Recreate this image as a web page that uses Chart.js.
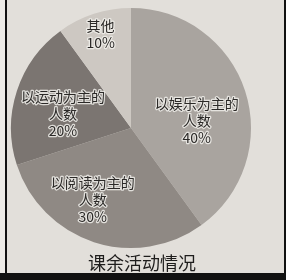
<!DOCTYPE html>
<html>
<head>
<meta charset="utf-8">
<script src="https://cdn.jsdelivr.net/npm/chart.js@4"></script>
<style>
  html, body { margin: 0; padding: 0; background: #e2dfda; }
  #wrap { position: relative; width: 286px; height: 280px; overflow: hidden; }
  .bar { position: absolute; background: #111; }
</style>
</head>
<body>
<div id="wrap">
  <canvas id="pie"></canvas>
  <div class="bar" style="left:0;top:0;width:5px;height:280px;background:#eceae6"></div>
  <div class="bar" style="left:5px;top:0;width:2px;height:280px"></div>
  <div class="bar" style="left:284px;top:0;width:2px;height:280px"></div>
  <div class="bar" style="left:0;top:273px;width:286px;height:7px"></div>
</div>
<script>
const categories = ['以娱乐为主的人数', '以阅读为主的人数', '以运动为主的人数', '其他'];
const labelLines = [['以娱乐为主的', '人数'], ['以阅读为主的', '人数'], ['以运动为主的', '人数'], ['其他']];
const values = [40, 30, 20, 10];
const chartTitle = '课余活动情况';

const colors = ['#a9a49f', '#8f8984', '#7b7571', '#cdc8c2'];
// label placement: radius fraction and angle nudge (deg) per slice
const labelRadius = [0.55, 0.68, 0.58, 0.82];
const labelNudge = [12, 10, -6, 0];

const sliceLabels = {
    id: 'sliceLabels',
    afterDatasetsDraw(chart) {
        const ctx = chart.ctx;
        const arcs = chart.getDatasetMeta(0).data;
        ctx.save();
        ctx.font = '14px "Noto Sans CJK SC", sans-serif';
        ctx.textAlign = 'center';
        ctx.textBaseline = 'middle';
        ctx.lineJoin = 'round';
        arcs.forEach((arc, i) => {
            const p = arc.getProps(['x', 'y', 'startAngle', 'endAngle', 'outerRadius'], true);
            const a = (p.startAngle + p.endAngle) / 2 + labelNudge[i] * Math.PI / 180;
            const r = p.outerRadius * labelRadius[i];
            const cx = p.x + Math.cos(a) * r;
            const cy = p.y + Math.sin(a) * r;
            const lines = [...labelLines[i], values[i] + '%'];
            const lh = 17;
            const y0 = cy - (lines.length - 1) * lh / 2;
            lines.forEach((t, k) => {
                ctx.strokeStyle = 'rgba(240,238,234,0.85)';
                ctx.lineWidth = 2.5;
                ctx.strokeText(t, cx, y0 + k * lh);
                ctx.fillStyle = '#2b2927';
                ctx.fillText(t, cx, y0 + k * lh);
            });
        });
        ctx.font = '18px "Noto Sans CJK SC", sans-serif';
        ctx.fillStyle = '#1e1d1c';
        ctx.fillText(chartTitle, 142, 263);
        ctx.restore();
    }
};

new Chart(document.getElementById('pie'), {
    type: 'pie',
    data: {
        labels: categories,
        datasets: [{
            data: values,
            backgroundColor: colors,
            borderColor: colors,
            borderWidth: 0
        }]
    },
    options: {
        responsive: true,
        maintainAspectRatio: false,
        animation: false,
        layout: { padding: { left: 11, top: 8, right: 35, bottom: 32 } },
        plugins: {
            legend: { display: false },
            tooltip: { enabled: false }
        }
    },
    plugins: [sliceLabels]
});
</script>
</body>
</html>
